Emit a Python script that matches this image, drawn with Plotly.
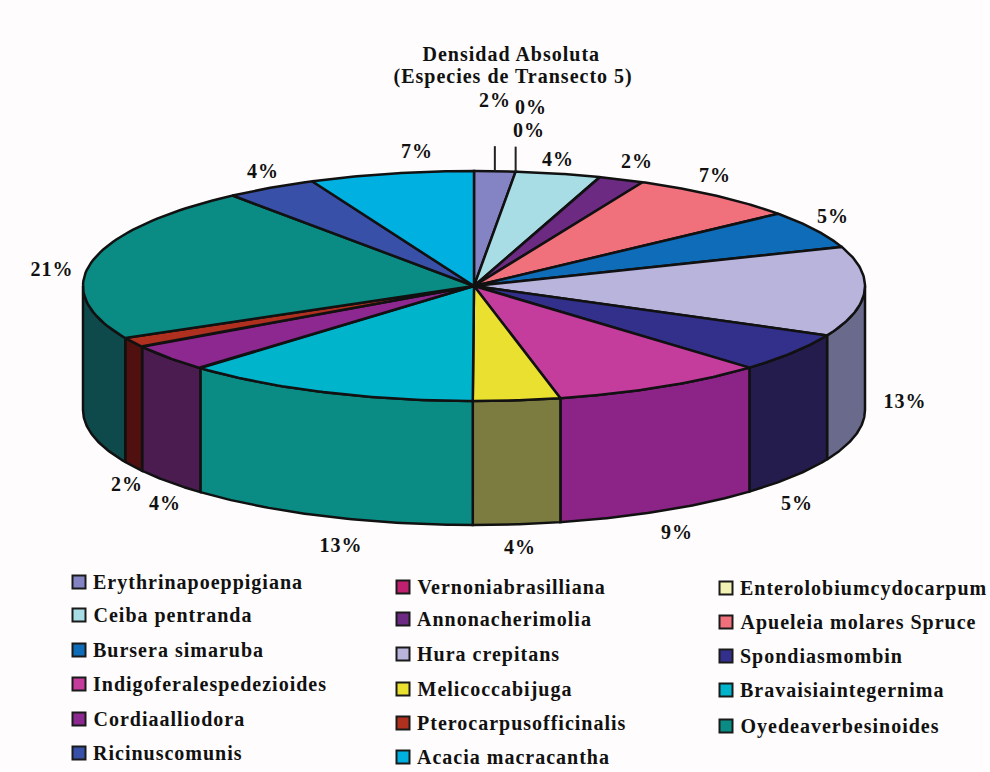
import numpy as np
import plotly.graph_objects as go

# ---- data ----
species = ["Erythrinapoeppigiana", "Vernoniabrasilliana", "Enterolobiumcydocarpum",
           "Ceiba pentranda", "Annonacherimolia", "Apueleia molares Spruce",
           "Bursera simaruba", "Hura crepitans", "Spondiasmombin",
           "Indigoferalespedezioides", "Melicoccabijuga", "Bravaisiaintegernima",
           "Cordiaalliodora", "Pterocarpusofficinalis", "Oyedeaverbesinoides",
           "Ricinuscomunis", "Acacia macracantha"]
shares = [1.7, 0, 0, 3.5, 1.9, 7.1, 5.3, 12.6, 5.5, 8.9, 3.6, 12.3, 3.8, 1.4, 21.9, 3.8, 6.8]
labels = ["2%", "0%", "0%", "4%", "2%", "7%", "5%", "13%", "5%", "9%", "4%", "13%", "4%", "2%", "21%", "4%", "7%"]
title_lines = ["Densidad Absoluta", "(Especies de Transecto 5)"]

# ---- styles ----
top_colors = ["#8484c4", "#c02070", "#f2f2b4", "#a8dde6", "#6c2a82", "#f0707c",
              "#0f6cb8", "#b8b4dc", "#33308c", "#c43c9c", "#eae030", "#00b4cc",
              "#8c2890", "#b03020", "#0a8c84", "#3850a8", "#00b0e0"]
wall_colors = ["#42426a", "#601038", "#79795a", "#54707a", "#361541", "#78383e",
               "#08365c", "#6a6a8c", "#241c4c", "#8c2488", "#7c7c40", "#0a8c84",
               "#4a1c50", "#501010", "#0e4a4c", "#1c2854", "#005870"]

CX, CY, RX, RY, DEPTH = 474, 286, 391, 115, 124
INK = "#111111"
SERIF = "Liberation Serif"
SPACING = 1.0

label_xy = [(495, 100), (531, 107), (529, 130), (558, 159), (637, 161), (715, 175),
            (833, 216), (905, 401), (797, 503), (677, 532), (520, 547), (341, 545),
            (165, 503), (127, 484), (52, 269), (263, 171), (417, 151)]
legend_xy = [(79, 582), (403, 587), (726, 588),
             (79, 615), (403, 619), (726, 622),
             (79, 650), (403, 654), (726, 656),
             (79, 684), (403, 689), (726, 690),
             (79, 719), (403, 723), (726, 726),
             (79, 753), (403, 757)]


def rim(t_deg, dy=0.0):
    t = np.radians(t_deg)
    return CX + RX * np.sin(t), CY - RY * np.cos(t) + dy


edges = np.concatenate([[0], np.cumsum(shares)]) / np.sum(shares) * 360
fig = go.Figure()

# side walls: only the front half of the disc shows
for i, s in enumerate(species):
    a, b = max(edges[i], 90), min(edges[i + 1], 270)
    if b <= a:
        continue
    t = np.linspace(a, b, 60)
    x1, y1 = rim(t)
    x2, y2 = rim(t[::-1], DEPTH)
    fig.add_trace(go.Scatter(x=np.r_[x1, x2, x1[0]], y=np.r_[y1, y2, y1[0]], mode="lines",
                             fill="toself", fillcolor=wall_colors[i],
                             line=dict(color=INK, width=2.5), name=s, hoverinfo="name"))

# top faces
for i, s in enumerate(species):
    if shares[i] == 0:
        continue
    t = np.linspace(edges[i], edges[i + 1], 60)
    x, y = rim(t)
    fig.add_trace(go.Scatter(x=np.r_[CX, x, CX], y=np.r_[CY, y, CY], mode="lines",
                             fill="toself", fillcolor=top_colors[i],
                             line=dict(color=INK, width=2.5), name=s,
                             text=labels[i], hoverinfo="name+text"))

# leader lines of the narrow top slices
for mid in sorted({(edges[i] + edges[i + 1]) / 2 for i in range(3)}):
    x, y = rim(mid)
    fig.add_trace(go.Scatter(x=[x, x], y=[y, y - 25], mode="lines",
                             line=dict(color="#222222", width=2), hoverinfo="skip"))

# legend swatches
fig.add_trace(go.Scatter(x=[p[0] for p in legend_xy], y=[p[1] for p in legend_xy], mode="markers",
                         marker=dict(symbol="square", size=13, color=top_colors,
                                     line=dict(color="#1a1a1a", width=2)),
                         text=species, hoverinfo="text"))


def note(x, y, txt, size, anchor="center"):
    # letter spacing grows the text around its centre, so left-anchored text is moved back by half of it
    shift = SPACING * len(txt) / 2 if anchor == "left" else 0
    fig.add_annotation(x=x, y=y, text=txt, showarrow=False, xanchor=anchor, yanchor="middle",
                       xshift=shift,
                       font=dict(family=SERIF, size=size, color="#111111", weight="bold"))


note(511, 54, title_lines[0], 20)
note(513, 76, title_lines[1], 20)
for (x, y), txt in zip(label_xy, labels):
    note(x, y, txt, 20)
for (x, y), txt in zip(legend_xy, species):
    note(x + 12, y, txt, 20, "left")

fig.update_layout(width=990, height=772, margin=dict(l=0, r=0, t=0, b=0),
                  paper_bgcolor="#fefcfc", plot_bgcolor="#fefcfc", showlegend=False,
                  xaxis=dict(range=[0, 990], visible=False, fixedrange=True),
                  yaxis=dict(range=[772, 0], visible=False, fixedrange=True))

page_js = """
document.body.style.margin = '0';
document.body.style.overflow = 'hidden';
document.querySelectorAll('.annotation-text').forEach(function (e) {
  e.style.letterSpacing = '%spx';
});
""" % SPACING
fig.write_html("out.html", post_script=page_js, config={"displayModeBar": False})
